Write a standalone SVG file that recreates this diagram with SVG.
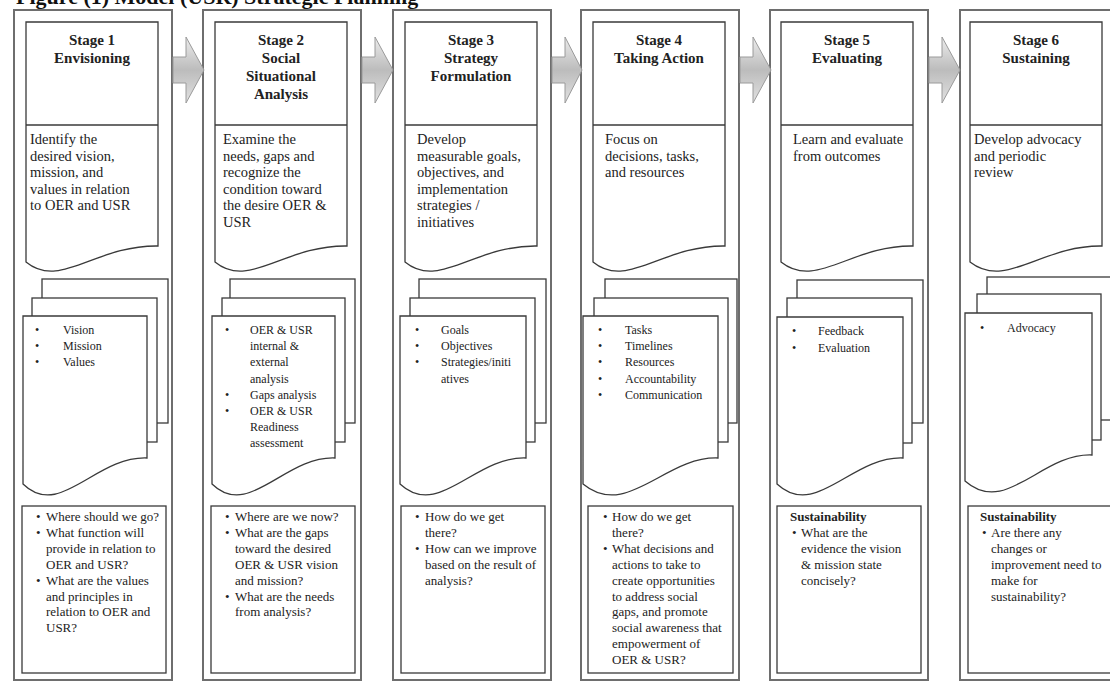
<svg xmlns="http://www.w3.org/2000/svg" width="1110" height="684" viewBox="0 0 1110 684">
<style>
text{font-family:"Liberation Serif","Times New Roman",serif;fill:#222}
.title{font-size:22px;font-weight:bold;fill:#111}
.col{fill:#fff;stroke:#6e6e6e;stroke-width:2}
.doc,.pg,.box{fill:#fff;stroke:#3a3a3a;stroke-width:1.3}
.div{stroke:#3a3a3a;stroke-width:1.3}
.hd{font-size:15px;font-weight:bold;text-anchor:middle}
.desc{font-size:14.5px}
.li{font-size:12px}
.q{font-size:13px}
.qb{font-size:13px;font-weight:bold}
.arrow{fill:url(#ag);stroke:#9a9a9a;stroke-width:1}
</style>
<defs>
<linearGradient id="ag" x1="0" y1="0" x2="0" y2="1">
<stop offset="0" stop-color="#ececec"/>
<stop offset="0.5" stop-color="#bcbcbc"/>
<stop offset="1" stop-color="#e2e2e2"/>
</linearGradient>
</defs>
<rect x="0" y="0" width="1110" height="684" fill="#fff"/>
<text class="title" x="16" y="4">Figure (1) Model (USR) Strategic Planning</text>

<g id="stage1">
<rect class="col" x="14" y="10" width="158" height="670"/>
<path class="doc" d="M26,22 H158 V246 C95,245 60,290 26,262 Z"/>
<line class="div" x1="26" y1="125" x2="158" y2="125"/>
<text class="hd"><tspan x="92" y="45">Stage 1</tspan><tspan x="92" y="63">Envisioning</tspan></text>
<text class="desc"><tspan x="30" y="144">Identify the</tspan><tspan x="30" y="160.6">desired vision,</tspan><tspan x="30" y="177.2">mission, and</tspan><tspan x="30" y="193.8">values in relation</tspan><tspan x="30" y="210.4">to OER and USR</tspan></text>
<rect class="pg" x="42" y="279" width="126" height="144"/>
<rect class="pg" x="32" y="298" width="125" height="144"/>
<path class="doc" d="M23,316 H147 V458 C95,456 60,520 23,484 Z"/>
<text class="li"><tspan x="35" y="334">•</tspan><tspan x="63" y="334">Vision</tspan><tspan x="35" y="350.2">•</tspan><tspan x="63" y="350.2">Mission</tspan><tspan x="35" y="366.4">•</tspan><tspan x="63" y="366.4">Values</tspan></text>
<rect class="box" x="22" y="506" width="144" height="167"/>
<text class="q"><tspan x="36" y="521">•</tspan><tspan x="46" y="521">Where should we go?</tspan><tspan x="36" y="536.9">•</tspan><tspan x="46" y="536.9">What function will</tspan><tspan x="46" y="552.8">provide in relation to</tspan><tspan x="46" y="568.7">OER and USR?</tspan><tspan x="36" y="584.6">•</tspan><tspan x="46" y="584.6">What are the values</tspan><tspan x="46" y="600.5">and principles in</tspan><tspan x="46" y="616.4">relation to OER and</tspan><tspan x="46" y="632.3">USR?</tspan></text>
</g>

<g id="stage2" transform="translate(189,0)">
<rect class="col" x="14" y="10" width="158" height="670"/>
<path class="doc" d="M26,22 H158 V246 C95,245 60,290 26,262 Z"/>
<line class="div" x1="26" y1="125" x2="158" y2="125"/>
<text class="hd"><tspan x="92" y="45">Stage 2</tspan><tspan x="92" y="63">Social</tspan><tspan x="92" y="81">Situational</tspan><tspan x="92" y="99">Analysis</tspan></text>
<text class="desc"><tspan x="34" y="144">Examine the</tspan><tspan x="34" y="160.6">needs, gaps and</tspan><tspan x="34" y="177.2">recognize the</tspan><tspan x="34" y="193.8">condition toward</tspan><tspan x="34" y="210.4">the desire OER &amp;</tspan><tspan x="34" y="227">USR</tspan></text>
<rect class="pg" x="41" y="279" width="125" height="144"/>
<rect class="pg" x="33" y="298" width="123" height="144"/>
<path class="doc" d="M23,316 H146 V458 C95,456 60,520 23,484 Z"/>
<text class="li"><tspan x="36" y="334">•</tspan><tspan x="61" y="334">OER &amp; USR</tspan><tspan x="61" y="350.2">internal &amp;</tspan><tspan x="61" y="366.4">external</tspan><tspan x="61" y="382.6">analysis</tspan><tspan x="36" y="398.8">•</tspan><tspan x="61" y="398.8">Gaps analysis</tspan><tspan x="36" y="415">•</tspan><tspan x="61" y="415">OER &amp; USR</tspan><tspan x="61" y="431.2">Readiness</tspan><tspan x="61" y="447.4">assessment</tspan></text>
<rect class="box" x="22" y="506" width="144" height="167"/>
<text class="q"><tspan x="36" y="521">•</tspan><tspan x="46" y="521">Where are we now?</tspan><tspan x="36" y="536.9">•</tspan><tspan x="46" y="536.9">What are the gaps</tspan><tspan x="46" y="552.8">toward the desired</tspan><tspan x="46" y="568.7">OER &amp; USR vision</tspan><tspan x="46" y="584.6">and mission?</tspan><tspan x="36" y="600.5">•</tspan><tspan x="46" y="600.5">What are the needs</tspan><tspan x="46" y="616.4">from analysis?</tspan></text>
</g>

<g id="stage3" transform="translate(379,0)">
<rect class="col" x="14" y="10" width="158" height="670"/>
<path class="doc" d="M26,22 H158 V246 C95,245 60,290 26,262 Z"/>
<line class="div" x1="26" y1="125" x2="158" y2="125"/>
<text class="hd"><tspan x="92" y="45">Stage 3</tspan><tspan x="92" y="63">Strategy</tspan><tspan x="92" y="81">Formulation</tspan></text>
<text class="desc"><tspan x="38" y="144">Develop</tspan><tspan x="38" y="160.6">measurable goals,</tspan><tspan x="38" y="177.2">objectives, and</tspan><tspan x="38" y="193.8">implementation</tspan><tspan x="38" y="210.4">strategies /</tspan><tspan x="38" y="227">initiatives</tspan></text>
<rect class="pg" x="40" y="279" width="127" height="144"/>
<rect class="pg" x="31" y="298" width="125" height="144"/>
<path class="doc" d="M21,316 H147 V458 C95,456 60,520 21,484 Z"/>
<text class="li"><tspan x="36" y="334">•</tspan><tspan x="62" y="334">Goals</tspan><tspan x="36" y="350.2">•</tspan><tspan x="62" y="350.2">Objectives</tspan><tspan x="36" y="366.4">•</tspan><tspan x="62" y="366.4">Strategies/initi</tspan><tspan x="62" y="382.6">atives</tspan></text>
<rect class="box" x="22" y="506" width="144" height="167"/>
<text class="q"><tspan x="36" y="521">•</tspan><tspan x="46" y="521">How do we get</tspan><tspan x="46" y="536.9">there?</tspan><tspan x="36" y="552.8">•</tspan><tspan x="46" y="552.8">How can we improve</tspan><tspan x="46" y="568.7">based on the result of</tspan><tspan x="46" y="584.6">analysis?</tspan></text>
</g>

<g id="stage4" transform="translate(567,0)">
<rect class="col" x="14" y="10" width="158" height="670"/>
<path class="doc" d="M26,22 H158 V246 C95,245 60,290 26,262 Z"/>
<line class="div" x1="26" y1="125" x2="158" y2="125"/>
<text class="hd"><tspan x="92" y="45">Stage 4</tspan><tspan x="92" y="63">Taking Action</tspan></text>
<text class="desc"><tspan x="38" y="144">Focus on</tspan><tspan x="38" y="160.6">decisions, tasks,</tspan><tspan x="38" y="177.2">and resources</tspan></text>
<rect class="pg" x="38" y="279" width="132" height="144"/>
<rect class="pg" x="27" y="298" width="134" height="144"/>
<path class="doc" d="M16,316 H151 V458 C98,456 60,520 16,484 Z"/>
<text class="li"><tspan x="31" y="334">•</tspan><tspan x="58" y="334">Tasks</tspan><tspan x="31" y="350.2">•</tspan><tspan x="58" y="350.2">Timelines</tspan><tspan x="31" y="366.4">•</tspan><tspan x="58" y="366.4">Resources</tspan><tspan x="31" y="382.6">•</tspan><tspan x="58" y="382.6">Accountability</tspan><tspan x="31" y="398.8">•</tspan><tspan x="58" y="398.8">Communication</tspan></text>
<rect class="box" x="21" y="506" width="145" height="167"/>
<text class="q"><tspan x="36" y="521">•</tspan><tspan x="45" y="521">How do we get</tspan><tspan x="45" y="536.9">there?</tspan><tspan x="36" y="552.8">•</tspan><tspan x="45" y="552.8">What decisions and</tspan><tspan x="45" y="568.7">actions to take to</tspan><tspan x="45" y="584.6">create opportunities</tspan><tspan x="45" y="600.5">to address social</tspan><tspan x="45" y="616.4">gaps, and promote</tspan><tspan x="45" y="632.3">social awareness that</tspan><tspan x="45" y="648.2">empowerment of</tspan><tspan x="45" y="664.1">OER &amp; USR?</tspan></text>
</g>

<g id="stage5" transform="translate(756,0)">
<rect class="col" x="14" y="10" width="158" height="670"/>
<path class="doc" d="M25,22 H157 V246 C95,245 60,290 25,262 Z"/>
<line class="div" x1="25" y1="125" x2="157" y2="125"/>
<text class="hd"><tspan x="91" y="45">Stage 5</tspan><tspan x="91" y="63">Evaluating</tspan></text>
<text class="desc"><tspan x="37" y="144">Learn and evaluate</tspan><tspan x="37" y="160.6">from outcomes</tspan></text>
<rect class="pg" x="41" y="280" width="126" height="143"/>
<rect class="pg" x="31" y="298" width="125" height="145"/>
<path class="doc" d="M21,317 H147 V458 C95,456 60,520 21,484 Z"/>
<text class="li"><tspan x="36" y="335">•</tspan><tspan x="62" y="335">Feedback</tspan><tspan x="36" y="351.5">•</tspan><tspan x="62" y="351.5">Evaluation</tspan></text>
<rect class="box" x="21" y="506" width="144" height="167"/>
<text class="qb" x="34" y="521">Sustainability</text>
<text class="q"><tspan x="36" y="536.9">•</tspan><tspan x="45" y="536.9">What are the</tspan><tspan x="45" y="552.8">evidence the vision</tspan><tspan x="45" y="568.7">&amp; mission state</tspan><tspan x="45" y="584.6">concisely?</tspan></text>
</g>

<g id="stage6" transform="translate(946,0)">
<rect class="col" x="14" y="10" width="158" height="670"/>
<path class="doc" d="M24,22 H156 V246 C95,245 60,290 24,262 Z"/>
<line class="div" x1="24" y1="125" x2="156" y2="125"/>
<text class="hd"><tspan x="90" y="45">Stage 6</tspan><tspan x="90" y="63">Sustaining</tspan></text>
<text class="desc"><tspan x="28" y="144">Develop advocacy</tspan><tspan x="28" y="160.6">and periodic</tspan><tspan x="28" y="177.2">review</tspan></text>
<rect class="pg" x="41" y="277" width="126" height="143"/>
<rect class="pg" x="31" y="294" width="124" height="146"/>
<path class="doc" d="M19,313 H146 V455 C95,453 60,517 19,481 Z"/>
<text class="li"><tspan x="34" y="332">•</tspan><tspan x="61" y="332">Advocacy</tspan></text>
<rect class="box" x="22" y="506" width="144" height="167"/>
<text class="qb" x="34" y="521">Sustainability</text>
<text class="q"><tspan x="36" y="536.9">•</tspan><tspan x="45" y="536.9">Are there any</tspan><tspan x="45" y="552.8">changes or</tspan><tspan x="45" y="568.7">improvement need to</tspan><tspan x="45" y="584.6">make for</tspan><tspan x="45" y="600.5">sustainability?</tspan></text>
</g>

<g id="connectors">
<polygon class="arrow" points="173,57 186,57 186,37 204,70 186,103 186,83 173,83"/>
<polygon class="arrow" points="362,57 375,57 375,37 393,70 375,103 375,83 362,83"/>
<polygon class="arrow" points="552,57 565,57 565,37 582,70 565,103 565,83 552,83"/>
<polygon class="arrow" points="740,57 753,57 753,37 771,70 753,103 753,83 740,83"/>
<polygon class="arrow" points="929,57 942,57 942,37 960,70 942,103 942,83 929,83"/>
</g>
</svg>
